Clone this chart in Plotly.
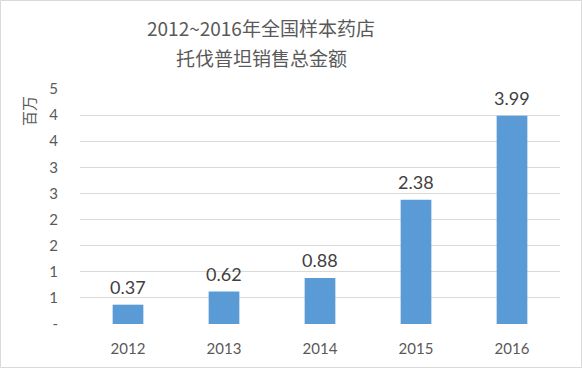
import plotly.graph_objects as go

years = ["2012", "2013", "2014", "2015", "2016"]
values = [0.37, 0.62, 0.88, 2.38, 3.99]
label_text = ["0.37", "0.62", "0.88", "2.38", "3.99"]
y_tickvals = [0, 0.5, 1, 1.5, 2, 2.5, 3, 3.5, 4, 4.5]
y_ticktext = ["-", "1", "1", "2", "2", "3", "3", "4", "4", "5"]
title_lines = ["2012~2016年全国样本药店", "托伐普坦销售总金额"]
y_unit = "百万"

W, H = 582, 368
L, R, T, B = 80, 22, 89, 44

fig = go.Figure()
fig.add_trace(go.Bar(
    x=years, y=values, marker_color="#5B9BD5", marker_line_width=0,
))

for i, (yv, tv) in enumerate(zip(values, label_text)):
    fig.add_annotation(x=i, y=yv, text=tv, showarrow=False, yanchor="bottom",
                       yshift=5, font=dict(family="Lato", size=18, color="#404040"))

fig.update_layout(
    width=W, height=H,
    margin=dict(l=L, r=R, t=T, b=B),
    paper_bgcolor="white", plot_bgcolor="white",
    showlegend=False,
    bargap=0.68,
    font=dict(family="Lato, Noto Sans CJK SC", color="#595959"),
    xaxis=dict(type="category", showgrid=False, showline=False, ticks="", ticklabelstandoff=14,
               tickfont=dict(size=15, color="#595959")),
    yaxis=dict(range=[0, 4.5], tickvals=y_tickvals, ticktext=y_ticktext,
               showgrid=True, gridcolor="#d9d9d9", gridwidth=1,
               zeroline=False, showline=False, ticks="", ticklabelstandoff=21,
               tickfont=dict(size=15, color="#595959")),
)

pw = W - L - R
ph = H - T - B
def px_x(p):
    return (p - L) / pw
def px_y(p):
    return 1 - (p - T) / ph

fig.add_annotation(text=title_lines[0], xref="paper", yref="paper",
                   x=px_x(261), y=px_y(27), showarrow=False, xanchor="center", yanchor="middle",
                   font=dict(family="Noto Sans CJK SC", size=19, color="#595959"))
fig.add_annotation(text=title_lines[1], xref="paper", yref="paper",
                   x=px_x(261), y=px_y(58), showarrow=False, xanchor="center", yanchor="middle",
                   font=dict(family="Noto Sans CJK SC", size=19, color="#595959"))
fig.add_annotation(text=y_unit, xref="paper", yref="paper", textangle=-90,
                   x=px_x(28), y=px_y(111), showarrow=False, xanchor="center", yanchor="middle",
                   font=dict(family="Noto Sans CJK SC", size=15, color="#595959"))

fig.add_shape(type="rect", xref="paper", yref="paper",
              x0=px_x(0.5), x1=px_x(W - 0.5), y0=px_y(H - 0.5), y1=px_y(0.5),
              line=dict(color="#d9d9d9", width=1), fillcolor="rgba(0,0,0,0)", layer="below")

fig.write_html("out.html")
